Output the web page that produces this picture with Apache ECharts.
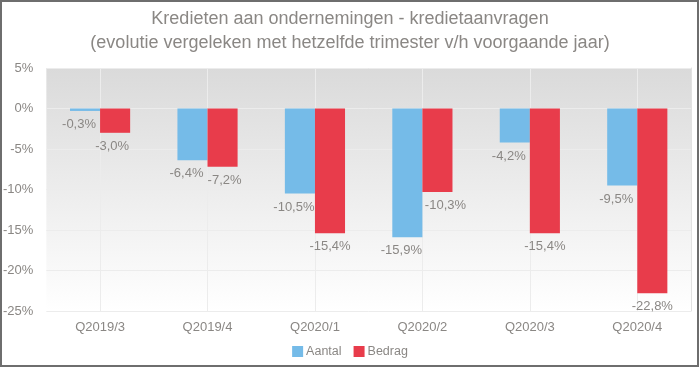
<!DOCTYPE html>
<html>
<head>
<meta charset="utf-8">
<script src="https://cdn.jsdelivr.net/npm/echarts@6/dist/echarts.min.js"></script>
<style>html,body{margin:0;padding:0;background:#fff;}#c{width:700px;height:368px;}</style>
</head>
<body>
<div id="c"></div>
<script>
const categories = ['Q2019/3', 'Q2019/4', 'Q2020/1', 'Q2020/2', 'Q2020/3', 'Q2020/4'];
const aantal = [-0.3, -6.4, -10.5, -15.9, -4.2, -9.5];
const bedrag = [-3.0, -7.2, -15.4, -10.3, -15.4, -22.8];
const seriesNames = ['Aantal', 'Bedrag'];
const titleLines = ['Kredieten aan ondernemingen - kredietaanvragen', '(evolutie vergeleken met hetzelfde trimester v/h voorgaande jaar)'];

const FONT = 'Liberation Sans';
const GRAY = '#8a8784';
const fmt = v => v.toFixed(1).replace('.', ',') + '%';

const chart = echarts.init(document.getElementById('c'), null, {renderer: 'canvas'});
const makeLabel = dx => ({
  show: true, position: 'bottom', distance: 7, offset: [dx, 0],
  color: GRAY, fontFamily: FONT, fontSize: 13,
  formatter: p => fmt(p.value)
});
// label nudges as in the original (avoid overlap with neighbouring bar)
const redNudge = [-3, 2, 0, 8, 0, 0];
const bedragData = bedrag.map((v, i) => ({value: v, label: {offset: [redNudge[i], 0]}}));

chart.setOption({
  animation: false,
  backgroundColor: '#ffffff',
  textStyle: {fontFamily: FONT},
  title: {
    text: titleLines.join('\n'), left: 'center', top: 2,
    textStyle: {color: GRAY, fontSize: 18, fontWeight: 'normal', fontFamily: FONT, lineHeight: 24}
  },
  legend: {
    data: seriesNames, bottom: 5, left: 'center', icon: 'rect',
    itemWidth: 11, itemHeight: 11, itemGap: 12,
    textStyle: {color: GRAY, fontSize: 12.5, fontFamily: FONT, padding: [0, 0, 0, -2]}
  },
  grid: {
    left: 46, right: 9, top: 68, bottom: 57, show: true, borderWidth: 0,
    backgroundColor: new echarts.graphic.LinearGradient(0, 0, 0, 1, [
      {offset: 0, color: '#dadada'}, {offset: 1, color: '#ffffff'}
    ])
  },
  xAxis: {
    type: 'category', data: categories,
    axisLine: {show: false}, axisTick: {show: false, alignWithLabel: true},
    axisLabel: {color: GRAY, fontSize: 13, fontFamily: FONT, margin: 10},
    splitLine: {show: true, alignWithLabel: true, lineStyle: {color: '#ececec', width: 1}}
  },
  yAxis: [{
    type: 'value', min: -25, max: 5, interval: 5,
    axisLine: {show: false}, axisTick: {show: false},
    axisLabel: {color: GRAY, fontSize: 13, fontFamily: FONT, margin: 13, formatter: '{value}%'},
    splitLine: {lineStyle: {color: '#ececec', width: 1}}
  }, {
    type: 'value', min: -25, max: 5, interval: 5, position: 'right',
    axisLine: {show: true, lineStyle: {color: '#e2e2e2'}}, axisTick: {show: false},
    axisLabel: {show: false}, splitLine: {show: false}
  }],
  series: [{
    name: seriesNames[0], type: 'bar', data: aantal, barGap: '0%', barCategoryGap: '44%',
    itemStyle: {color: '#75bbe8'}, label: makeLabel(-6)
  }, {
    name: seriesNames[1], type: 'bar', data: bedragData, barGap: '0%', barCategoryGap: '44%',
    itemStyle: {color: '#e83c4b'}, label: makeLabel(0)
  }],
  graphic: [{
    type: 'rect', shape: {x: 1, y: 1, width: 697, height: 365}, silent: true,
    style: {fill: 'none', stroke: '#6e6e6e', lineWidth: 2}, z: 100
  }]
});
</script>
</body>
</html>
